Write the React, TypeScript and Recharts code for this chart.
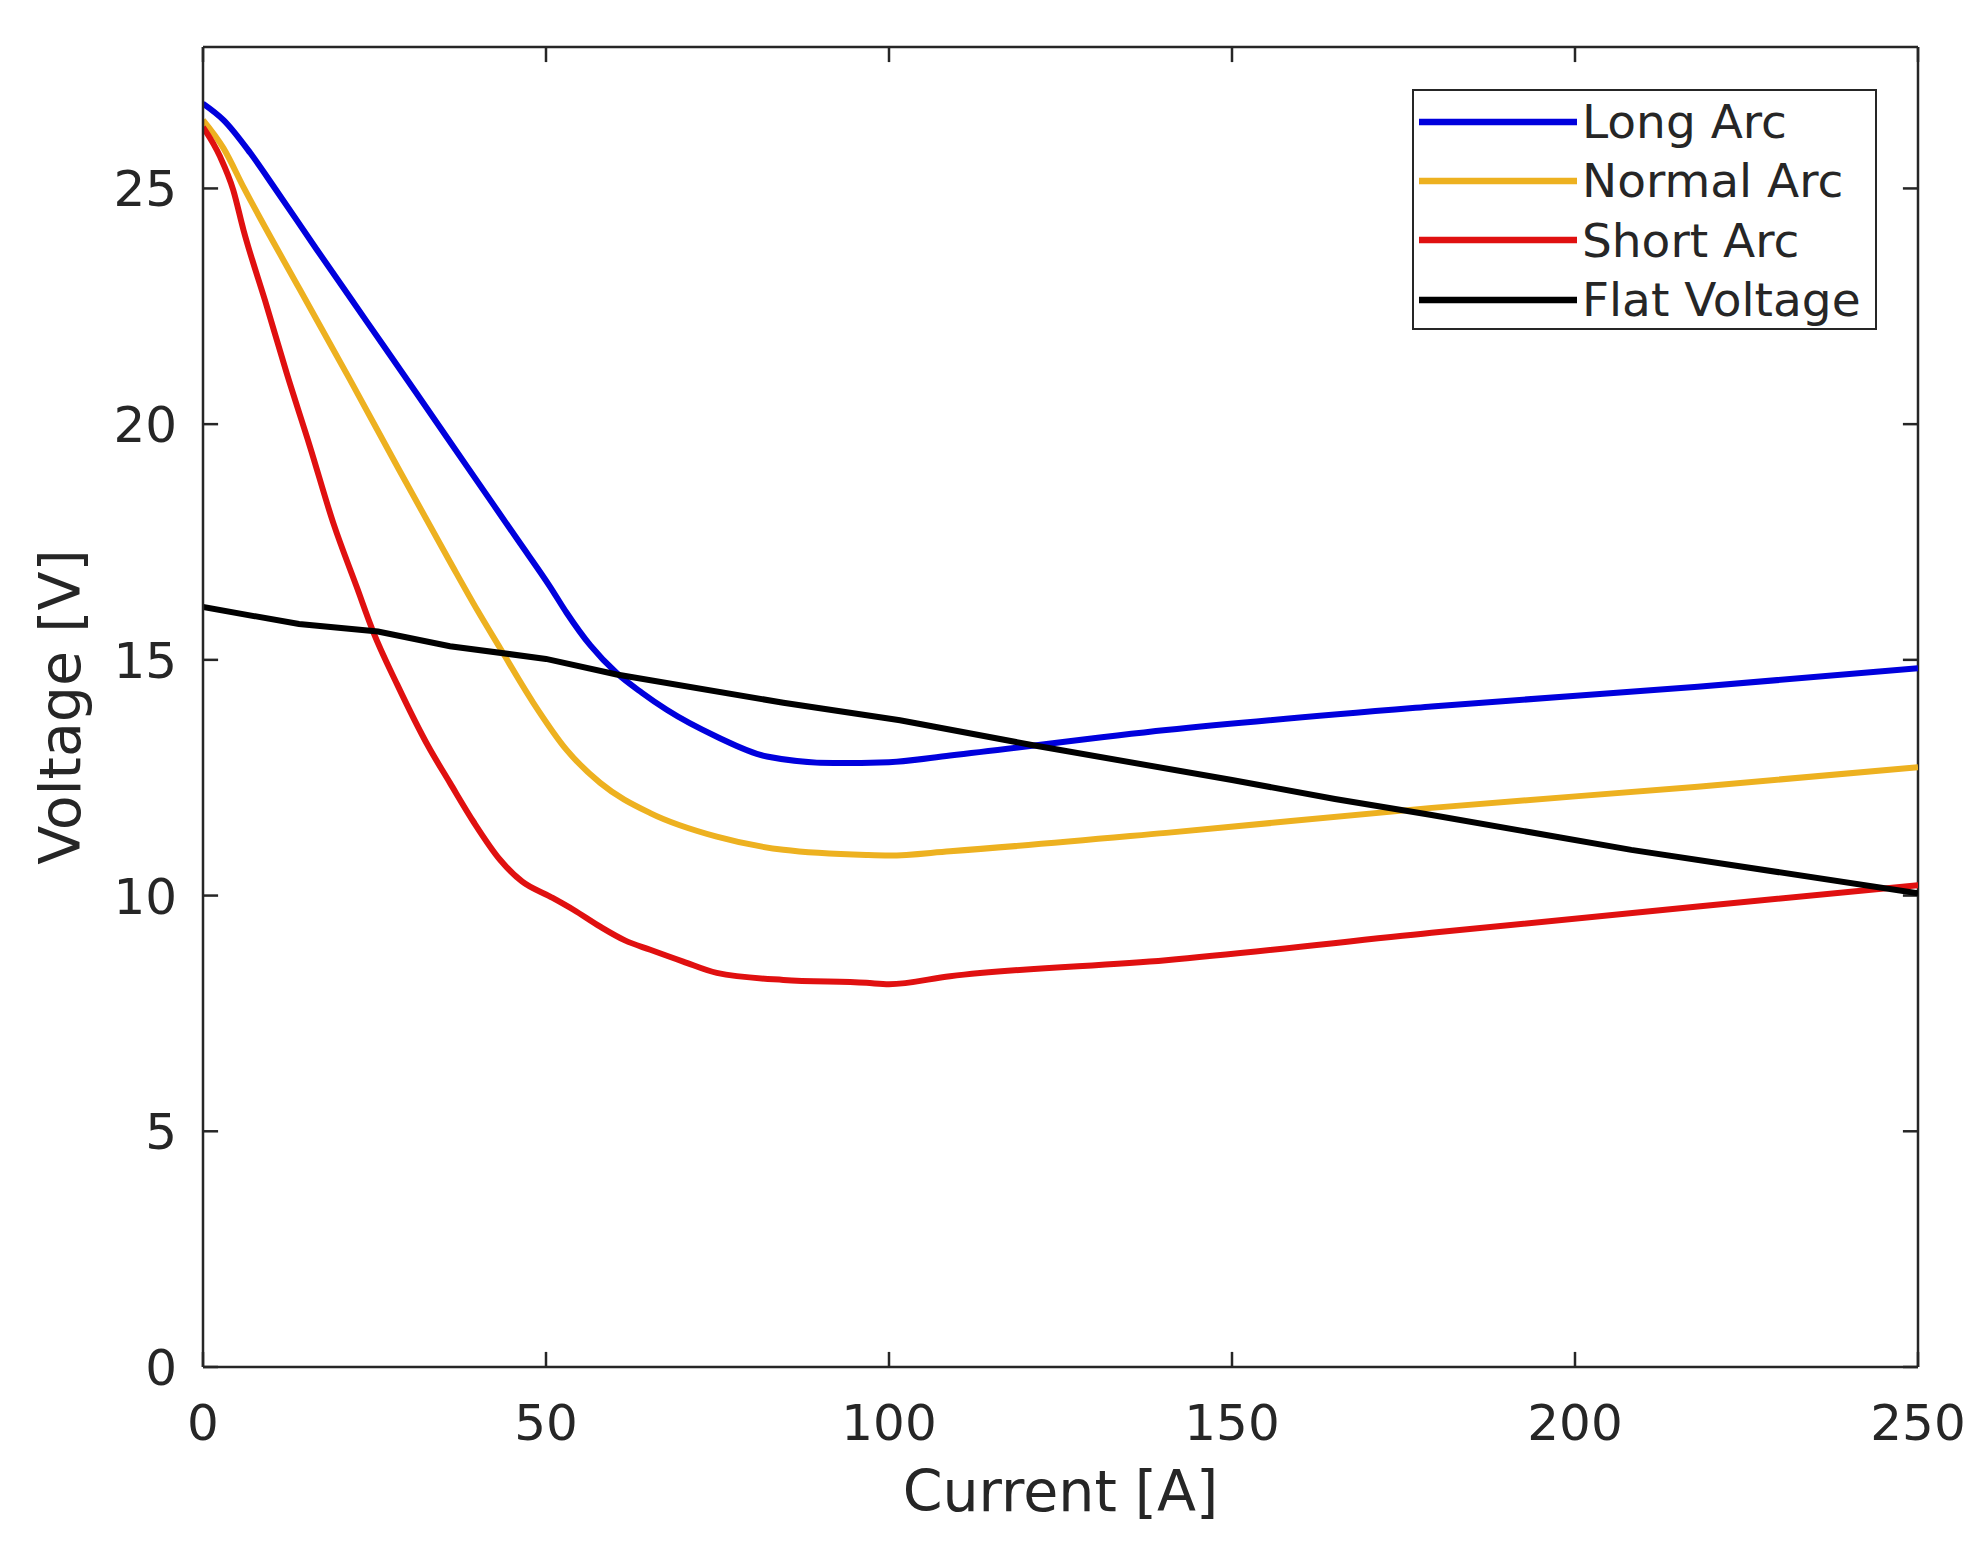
import { LineChart, Line, XAxis, YAxis, Legend, Label, ReferenceLine } from "recharts";

const FONT = '"DejaVu Sans", sans-serif';
const INK = "#262626";

const X_MAX = 250;
const Y_MAX = 28;
// inward tick length, in data units (about 15px on each axis)
const X_TICK_LEN = 2.2;
const Y_TICK_LEN = 0.32;

const currentTicks = [0, 50, 100, 150, 200, 250];
const voltageTicks = [0, 5, 10, 15, 20, 25];

const seriesNames = ["Long Arc", "Normal Arc", "Short Arc", "Flat Voltage"];
const seriesColors = ["#0000dd", "#edb120", "#e01010", "#000000"];

// Long Arc
const longArcCurrent = [0, 3, 6.9, 10.5, 16.6, 23.9, 31.2, 38.4, 46, 50.6, 53, 56.5, 60.3, 64, 67.6, 74.9, 82.2, 91.9, 100, 108.9, 140.4, 179.1, 217.9, 250];
const longArcVoltage = [26.8, 26.45, 25.75, 25.0, 23.7, 22.17, 20.64, 19.12, 17.52, 16.55, 16.0, 15.3, 14.72, 14.3, 13.94, 13.37, 12.95, 12.81, 12.83, 12.97, 13.51, 14.01, 14.43, 14.82];

// Normal Arc
const normalArcCurrent = [0, 3, 6, 14.1, 21.4, 28.7, 36, 40, 43.3, 48.1, 53, 57.9, 65.2, 74.9, 84.6, 96.7, 100, 108.9, 140.4, 179.1, 217.9, 250];
const normalArcVoltage = [26.45, 25.85, 25.0, 22.86, 20.95, 19.0, 17.08, 16.05, 15.25, 14.1, 13.09, 12.39, 11.75, 11.25, 10.97, 10.86, 10.85, 10.94, 11.33, 11.86, 12.31, 12.72];

// Short Arc
const shortArcCurrent = [0, 2.5, 4.4, 5.9, 9.3, 12.2, 15.6, 19, 22.4, 24.8, 28.3, 32.9, 36, 39.5, 43.3, 46.5, 50.6, 54, 57.9, 61.5, 65.2, 70, 74.9, 84.6, 96.7, 100, 108.9, 140.4, 179.1, 217.9, 250];
const shortArcVoltage = [26.3, 25.67, 24.97, 24.12, 22.5, 21.08, 19.52, 17.9, 16.55, 15.6, 14.48, 13.15, 12.39, 11.55, 10.76, 10.3, 9.98, 9.7, 9.34, 9.05, 8.85, 8.6, 8.36, 8.21, 8.15, 8.12, 8.29, 8.63, 9.21, 9.77, 10.22];

// Flat Voltage
const flatCurrent = [0, 14, 25.5, 36, 50, 60.3, 84.6, 101.6, 121, 150, 165, 179.1, 208.2, 250];
const flatVoltage = [16.12, 15.76, 15.6, 15.29, 15.02, 14.69, 14.09, 13.72, 13.19, 12.45, 12.05, 11.71, 10.97, 10.05];

const toRows = (cur: number[], volt: number[]) =>
  cur.map((c, i) => ({ current: c, voltage: volt[i] }));

const series = [
  { data: toRows(longArcCurrent, longArcVoltage), type: "monotone" },
  { data: toRows(normalArcCurrent, normalArcVoltage), type: "monotone" },
  { data: toRows(shortArcCurrent, shortArcVoltage), type: "monotone" },
  { data: toRows(flatCurrent, flatVoltage), type: "linear" },
];

function BottomTick({ x, y, payload }: any) {
  return (
    <text x={x} y={y + 73} textAnchor="middle" fontSize={50} fontFamily={FONT} fill={INK}>
      {payload.value}
    </text>
  );
}

function LeftTick({ x, y, payload }: any) {
  return (
    <text x={x - 26} y={y + 18} textAnchor="end" fontSize={50} fontFamily={FONT} fill={INK}>
      {payload.value}
    </text>
  );
}

function ArcLegend(props: any) {
  const items = [...(props.payload ?? [])].sort(
    (a: any, b: any) => seriesNames.indexOf(a.value) - seriesNames.indexOf(b.value)
  );
  return (
    <div
      style={{
        boxSizing: "border-box",
        width: 465,
        height: 241,
        border: `2px solid ${INK}`,
        background: "#fff",
        paddingTop: 1,
      }}
    >
      {items.map((it: any) => (
        <div key={it.value} style={{ display: "flex", alignItems: "center", height: 59.3 }}>
          <svg width={168} height={10} style={{ flex: "none", display: "block" }}>
            <line x1={5} y1={5} x2={163} y2={5} stroke={it.color} strokeWidth={6.5} />
          </svg>
          <span style={{ fontSize: 47, fontFamily: FONT, color: INK, whiteSpace: "nowrap", lineHeight: 1 }}>
            {it.value}
          </span>
        </div>
      ))}
    </div>
  );
}

const axisIds = { xAxisId: "bottom", yAxisId: "left" };
const tickStroke = { stroke: INK, strokeWidth: 2.5 };

export default function App() {
  return (
    <div style={{ position: "absolute", left: 0, top: 0, width: 1975, height: 1557, background: "#fff", fontFamily: FONT }}>
      <LineChart width={1975} height={1557} margin={{ top: 47, right: 57, left: 0, bottom: 0 }}>
        <XAxis
          xAxisId="bottom"
          type="number"
          dataKey="current"
          domain={[0, X_MAX]}
          ticks={currentTicks}
          interval={0}
          height={190}
          tickSize={0}
          tickMargin={0}
          tickLine={false}
          axisLine={tickStroke}
          tick={BottomTick}
          allowDataOverflow
        >
          <Label
            content={(p: any) => {
              const vb = p.viewBox ?? { x: 203, y: 1367, width: 1715 };
              return (
                <text x={vb.x + vb.width / 2} y={vb.y + 144} textAnchor="middle" fontSize={57} fontFamily={FONT} fill={INK}>
                  Current [A]
                </text>
              );
            }}
          />
        </XAxis>
        <YAxis
          yAxisId="left"
          type="number"
          domain={[0, Y_MAX]}
          ticks={voltageTicks}
          interval={0}
          width={203}
          tickSize={0}
          tickMargin={0}
          tickLine={false}
          axisLine={tickStroke}
          tick={LeftTick}
          allowDataOverflow
        >
          <Label
            content={(p: any) => {
              const vb = p.viewBox ?? { x: 0, y: 47, height: 1320 };
              const cy = vb.y + vb.height / 2;
              return (
                <text
                  x={80}
                  y={cy}
                  transform={`rotate(-90, 80, ${cy})`}
                  textAnchor="middle"
                  fontSize={57}
                  fontFamily={FONT}
                  fill={INK}
                >
                  Voltage [V]
                </text>
              );
            }}
          />
        </YAxis>

        {/* box: top and right edges */}
        <ReferenceLine {...axisIds} y={Y_MAX} {...tickStroke} ifOverflow="visible" />
        <ReferenceLine {...axisIds} x={X_MAX} {...tickStroke} ifOverflow="visible" />

        {/* inward ticks on all four sides */}
        {currentTicks.map((t) => (
          <ReferenceLine
            key={`b${t}`}
            {...axisIds}
            segment={[{ x: t, y: 0 }, { x: t, y: Y_TICK_LEN }]}
            {...tickStroke}
            ifOverflow="visible"
          />
        ))}
        {currentTicks.map((t) => (
          <ReferenceLine
            key={`t${t}`}
            {...axisIds}
            segment={[{ x: t, y: Y_MAX }, { x: t, y: Y_MAX - Y_TICK_LEN }]}
            {...tickStroke}
            ifOverflow="visible"
          />
        ))}
        {voltageTicks.map((t) => (
          <ReferenceLine
            key={`l${t}`}
            {...axisIds}
            segment={[{ x: 0, y: t }, { x: X_TICK_LEN, y: t }]}
            {...tickStroke}
            ifOverflow="visible"
          />
        ))}
        {voltageTicks.map((t) => (
          <ReferenceLine
            key={`r${t}`}
            {...axisIds}
            segment={[{ x: X_MAX, y: t }, { x: X_MAX - X_TICK_LEN, y: t }]}
            {...tickStroke}
            ifOverflow="visible"
          />
        ))}

        {series.map((s, i) => (
          <Line
            key={seriesNames[i]}
            {...axisIds}
            data={s.data}
            dataKey="voltage"
            name={seriesNames[i]}
            type={s.type as any}
            stroke={seriesColors[i]}
            strokeWidth={6}
            dot={false}
            activeDot={false}
            isAnimationActive={false}
          />
        ))}
        <Legend
          layout="vertical"
          align="center"
          verticalAlign="middle"
          wrapperStyle={{ left: 1412, top: 89, width: 465, height: 241 }}
          content={ArcLegend}
        />
      </LineChart>
    </div>
  );
}
